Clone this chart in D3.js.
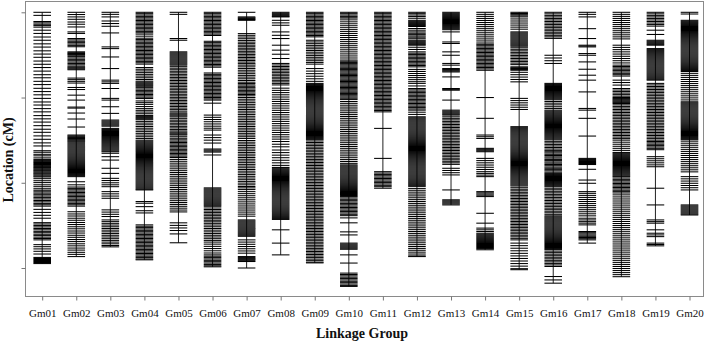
<!DOCTYPE html>
<html><head><meta charset="utf-8">
<script src="https://cdn.jsdelivr.net/npm/d3@7"></script>
<style>body{margin:0;background:#fff}svg{display:block}</style>
</head><body>
<svg id="c" width="708" height="341"></svg>
<script>
const groups = ["Gm01","Gm02","Gm03","Gm04","Gm05","Gm06","Gm07","Gm08","Gm09","Gm10","Gm11","Gm12","Gm13","Gm14","Gm15","Gm16","Gm17","Gm18","Gm19","Gm20"];
const yTicks = [0,50,100,150];
// marker positions (cM)
const gm01 = [0,1.8,5.4,6.2,7,7.8,8.7,10.5,12.4,14.5,16.4,18.5,20.4,22.6,24.5,26.4,28.6,30.5,32.4,34.5,36.6,38.4,40.5,42.4,44.6,46.5,48.4,50.5,52.6,54.4,56.5,58.4,60.6,62.5,64.4,66.5,68.6,70.4,72.5,74.5,76.6,78.4,81.2,82.1,83.3,84.2,85.4,86.3,87,87.6,88.1,88.7,89.3,89.8,90.4,91,91.5,92.1,92.7,93.2,93.8,94.4,94.9,95.5,96.1,96.6,97.6,98.8,99.9,101.2,102.3,103.5,104.4,105.3,106.1,107,107.8,108.7,109.5,110.4,111.2,112.1,112.9,113.7,115.6,117.4,119.1,120.8,123.4,124.2,125.1,125.9,126.8,127.6,128.5,129.3,130.2,131,131.9,132.7,133.5,136.3,137.5,138.8,140.2,141.8,143.8,144.4,145,145.6,146.2,146.8,147.4];
const gm02 = [0,1.3,2.7,4.1,5.7,7,8.6,11.5,12.4,15.4,16.2,17,17.8,18.6,19.4,20.2,23.2,23.7,24.2,24.7,25.2,26,26.8,27.6,28.4,29.2,30,30.8,31.6,32.2,32.7,33.2,33.7,38.6,39.5,40.5,41.5,44.1,45.3,48.6,51.5,55.6,56.2,59.1,62.6,67.3,72,72.5,73,73.5,74,74.5,75,75.5,76,76.6,77.2,77.8,78.4,79,79.6,80.2,80.8,81.4,82,82.6,83.2,83.8,84.4,85,85.6,86.2,86.8,87.4,88,88.6,89.2,89.8,90.4,91,91.6,92.2,92.8,93.4,94,94.6,95.2,95.8,96.4,99.4,101.2,102.5,103.3,104.1,104.9,105.7,106.5,107.3,108.1,108.9,109.7,110.5,111.3,112.1,112.9,113.7,117,118.3,119.5,120.8,122,123.3,124.5,125.8,127,128.3,129.5,130.8,132,133.3,134.5,135.8,137,138.3,139.5,140.8,142,143.3];
const gm03 = [0,1.2,2.7,5.1,6.6,8.2,12.1,20.3,21.3,26.2,33,39.8,40.8,41.7,44.7,50.5,51.5,55.4,59.3,63.2,63.8,64.4,65,65.6,66.2,66.8,68.1,68.7,69.3,69.9,70.5,71.1,71.7,72.3,72.9,73.5,74.1,74.7,75.3,75.9,76.5,77.1,77.7,78.3,78.9,79.5,80.1,80.7,81.3,81.8,82.7,84.7,86.7,91.5,94.5,97.4,98.7,100,101.2,102.3,105.2,106.5,107.8,109.1,115.9,117.2,118.5,119.8,121.8,122.8,123.8,124.8,125.8,126.8,127.8,128.8,129.8,130.8,131.8,132.8,133.8,134.8,135.8,136.8,137.6];
const gm04 = [0,0.8,1.6,2.4,3.2,4,4.8,5.6,6.4,7.2,8,8.8,9.6,10.4,11.2,12,12.8,14,15.2,16,16.8,17.6,18.4,19.2,20,20.8,21.6,22.4,23.2,24,24.8,25.6,26.4,27.2,28,28.8,29.6,30.4,32.4,33.4,34.4,35.4,36.4,37.4,38.4,39.4,40.4,41,41.6,42.2,42.8,43.4,44.2,45,45.8,46.6,47.4,48.2,49,49.8,50.6,52,53,54,55.3,56.5,57.5,58.5,59.5,60.5,61.2,61.8,62.4,63,64,65,66,67,68,69,70,71,72,73,74,75,75.6,76.2,76.8,77.4,78,78.6,79.2,79.8,80.4,81,81.6,82.2,82.8,83.4,84,84.6,85.2,85.8,86.4,87,87.6,88.2,88.8,89.4,90,90.6,91.2,91.8,92.4,93,93.6,94.2,94.8,95.4,96,96.6,97.2,97.8,98.4,99,99.6,100.2,100.8,101.4,102,102.6,103.2,103.8,104.2,111,112,114,116.4,117.7,124.7,125.5,126.3,127.1,127.9,128.7,129.5,130.3,131.1,131.9,132.7,133.5,134.3,135.1,135.9,136.7,137.5,138.3,139.1,139.9,140.7,141.5,142.3,143.1,143.9,144.7,145.2];
const gm05 = [0,1.2,15.4,16.4,23.2,23.8,24.4,25,25.6,26.2,26.8,27.4,28,28.6,29.2,29.8,30.4,31,31.9,32.8,33.7,34.6,35.5,36.4,37.3,38.2,39.1,40,40.9,41.8,42.7,43.6,44.5,45.4,46.3,47.2,48.1,49,49.9,50.8,51.7,52.6,53.5,54.4,55.3,56.2,57.1,58,59,59.6,60.2,60.8,61.4,62.4,63.3,64.2,65.1,66,66.9,67.8,68.7,69.6,70.3,70.9,71.5,72,73,73.9,74.8,75.6,76.4,77.2,78,78.8,79.6,80.4,81.2,82,82.8,83.6,84.4,85.2,86.3,87.4,88.5,89.6,90.7,91.8,92.9,94,95.1,96.2,97.3,98.4,99.5,100.6,101.7,102.8,103.9,105,106.1,107.2,108.3,109.4,110.5,111.6,112.7,113.8,114.9,116,117.1,123.5,125,126.5,128,130,135.2];
const gm06 = [0,0.8,1.6,2.4,3.2,4,4.8,5.6,6.4,7.2,8,8.8,9.6,10.4,11.2,12,12.8,13.6,17,17.8,18.6,19.4,20.2,21,21.8,22.6,23.4,24.2,25,25.8,26.6,27.4,28.2,29,29.8,30.6,31.4,32.2,35.6,36.4,37.2,38,38.8,39.6,40.4,41.2,42,42.8,43.6,44.4,45.2,46,46.8,47.6,48.4,49.2,50,50.8,51.5,53.3,60.3,61.6,62.9,64.2,65.5,66.8,68,69.1,72,73.5,75,76.7,80.2,80.8,81.4,82,83.7,103,103.6,104.2,104.8,105.4,106,106.6,107.2,107.8,108.4,109,109.6,110.2,110.8,111.4,112,112.6,113.2,113.8,114.8,115.7,116.6,117.5,118.4,119.3,120.2,121.1,122,122.9,123.8,124.8,125.8,126.8,127.8,128.8,129.8,130.8,131.8,132.8,133.8,134.8,136,137.3,138.6,139.9,141.2,142.3,143.1,143.9,144.7,145.5,146.3,147.1,147.9,148.7,149.3];
const gm07 = [0,2.7,3.2,3.7,4.2,4.7,12.5,13.5,14.5,15.5,16.5,17.5,18.4,19.3,20.2,21.1,22,22.9,23.8,24.7,25.6,26.5,27.4,28.3,29.2,30.1,31,32,33,34,35,36,37,38,39,40,41,41.8,42.6,43.4,44.2,45,45.8,46.6,47.4,48.2,49,50,51,52,53,54,55,56,57,58,59,60,61,62,63,64,65,66,67,68,69,70,71,72,73,74,75.2,76.2,77.2,78.2,79.2,80.2,81.2,82.2,83.2,84.2,85.2,86.2,87.2,88.2,89.2,90.2,91.2,92.2,93.2,94.2,95.2,96.2,97.2,98.2,99.2,100.2,101.2,102.2,103,104,105.2,106.4,107.6,108.8,110,111.2,112.4,113.6,114.8,116,117.2,118.4,119.6,121.8,122.4,123,123.6,124.2,124.8,125.4,126,126.6,127.2,127.8,128.4,129,129.6,130.2,130.8,131.4,133.5,134.8,136.1,137.4,138.7,140,141.3,143.3,143.9,144.5,145.1,145.7,146.2,150];
const gm08 = [0,0.6,1.2,1.8,2.4,2.7,4.7,6.2,7.6,11.5,13.5,15.4,19.3,22.2,24.6,27.1,30,30.9,31.8,32.7,33.6,34.5,35.4,36.3,37.2,38.1,39,39.9,40.8,41.7,42.6,44.5,45.8,47.1,48.4,49.7,51,52.3,53.6,54.9,56.2,57.5,58.8,60.1,61.4,62.7,64,65.3,66.6,67.9,69.2,70.5,71.8,73.1,74.4,75.8,77.4,78.9,80.8,82.3,83.8,85.3,86.8,88.3,89.8,91,91.5,92.1,92.7,93.3,93.9,94.5,95.1,95.7,96.3,96.9,97.5,98.1,98.7,99.3,99.9,100.5,101.1,101.7,102.3,102.9,103.5,104.1,104.7,105.3,105.9,106.5,107.1,107.7,108.3,108.9,109.5,110.1,110.7,111.3,111.9,112.5,113.1,113.7,114.3,114.9,115.5,116.1,116.7,117.3,117.9,118.5,119.1,119.7,120.3,120.9,121.5,127.6,135.4,142.3];
const gm09 = [0,0.8,1.6,2.4,3.2,4,4.8,5.6,6.4,7.2,8,8.8,9.6,10.4,11.2,12,12.8,13.6,14.4,16.4,17.4,18.4,19.4,20.4,21.4,22.4,23.4,24.4,25.4,26.4,27.4,28.4,29.4,30.4,33,34.5,36,37.5,39,40.5,41.7,42.3,42.9,43.5,44.1,44.7,45.3,45.9,46.5,47.1,47.7,48.3,48.9,49.5,50.1,50.7,51.3,51.9,52.5,53.1,53.7,54.3,54.9,55.5,56.1,56.7,57.3,57.9,58.5,59.1,59.7,60.3,60.9,61.5,62.1,62.7,63.3,63.9,64.5,65.1,65.7,66.3,66.9,67.5,68.1,68.7,69.3,69.9,70.5,71.1,71.7,72.3,72.9,73.5,74.1,74.7,75.5,76.4,77.3,78.2,79.1,80,80.9,81.8,82.7,83.6,84.5,85.4,86.3,87.2,88.1,89,89.9,90.8,91.7,92.6,93.5,94.4,95.3,96.2,97.1,98,98.9,99.8,100.7,101.6,102.5,103.4,104.3,105.2,106.1,107,107.9,108.8,109.7,110.6,111.5,112.4,113.3,114.2,115.1,116,116.9,117.8,118.7,119.6,120.5,121.4,122.3,123.2,124.1,125,125.9,126.8,127.7,128.6,129.5,130.4,131.3,132.2,133.1,134,134.9,135.8,136.7,137.6,138.5,139.4,140.3,141.2,142.1,143,143.9,144.8,145.7,146.6,147];
const gm10 = [0,0.8,1.6,2.4,3.2,4,5.2,6.4,7.6,8.8,10,11.2,12.4,13.6,14.8,16,17.2,18.4,19.6,20.8,22,23.2,24.4,25.6,26.8,28,28.7,29.4,30.1,30.8,31.5,32.2,32.9,33.6,34.3,35,35.7,36.4,37.1,37.8,38.5,39.2,39.9,40.6,41.3,42,42.7,43.4,44.1,44.8,45.5,46.2,46.9,47.6,48.3,49,49.7,50.4,51.1,52.3,53.4,54.5,55.6,56.7,57.8,58.9,60,61.1,62.2,63.3,64.4,65.5,66.6,67.7,68.8,69.9,71,72.1,73.2,74.3,75.4,76.5,77.6,78.7,79.8,80.9,82,83.1,84.2,85.3,86.4,87.5,88.6,89.5,90.1,90.7,91.3,91.9,92.5,93.1,93.7,94.3,94.9,95.5,96.1,96.7,97.3,97.9,98.5,99.1,99.7,100.3,100.9,101.5,102.1,102.7,103.3,103.9,104.5,105.1,105.7,106.3,106.9,107.5,108.1,108.9,109.7,110.5,111.3,112.1,112.9,113.7,114.5,115.3,116.1,116.9,117.7,118.5,119.3,120.6,123.5,128.8,130.6,135.4,136,136.6,137.2,137.8,138.4,139,142.3,147.1,153,153.8,154.6,155.4,156.2,157,157.8,158.6,159.4,160.2,160.8];
const gm11 = [0,0.8,1.6,2.4,3.2,4,4.8,5.6,6.4,7.2,8,8.8,9.6,10.4,11.2,12,12.8,13.6,14.4,15.2,16,16.8,17.6,18.4,19.2,20,20.8,21.6,22.4,23.2,24,24.8,25.6,26.4,27.2,28,28.8,29.6,30.4,31.2,32,32.8,33.6,34.4,35.2,36,36.8,37.6,38.4,39.2,40,40.8,41.6,42.4,43.2,44,44.8,45.6,46.4,47.2,48,48.8,49.6,50.4,51.2,52,52.8,53.6,54.4,55.2,56,56.8,57.6,58.4,68.1,85.7,93.5,94.3,95.1,95.9,96.7,97.5,98.3,99.1,99.9,100.7,101.5,102.3,103.2];
const gm12 = [0,0.8,1.6,2.5,3.5,4.7,5.3,5.9,6.5,7.1,7.7,8.3,9.5,10.5,11.5,12.3,13.1,13.9,14.6,15.5,16.4,17,17.6,18.2,18.8,19.3,20.5,21.8,23.2,24,24.8,25.6,26.4,27.2,28,28.8,29.6,30.4,31.2,32,33.5,34.7,35.9,37.1,38.3,39.5,40.7,41.7,43.2,44.7,45.5,46.3,47.1,47.9,48.7,49.5,50.3,51.1,51.9,52.7,53.5,54.3,55.1,55.9,56.7,57.4,58.6,59.9,61.3,61.9,62.5,63.1,63.7,64.3,64.9,65.5,66.1,66.7,67.3,67.9,68.5,69.1,69.7,70.3,70.9,71.5,72.1,72.7,73.3,73.9,74.5,75.1,75.7,76.3,76.9,77.5,78.1,78.7,79.3,79.9,80.5,81.1,81.7,82.3,82.9,83.5,84.1,84.7,85.3,85.9,86.5,87.1,87.7,88.3,88.9,89.5,90.1,90.7,91.3,91.9,92.5,93.1,93.7,94.3,94.9,95.5,96.1,96.7,97.3,97.9,98.5,99.1,99.7,100.3,100.9,101.5,102.1,103.3,104.4,105.5,106.6,107.7,108.8,109.9,111,112.1,113.2,114.3,115.4,116.5,117.6,118.7,119.8,120.9,122,123.1,124.2,125.3,126.4,127.5,128.6,129.7,130.8,131.9,133,134.1,135.2,136.3,137.4,138.5,139.6,140.7,141.8,142.9,143.3];
const gm13 = [0,0.6,1.2,1.8,2.4,3,3.6,4.2,4.8,5.4,6,6.6,7.2,7.8,8.4,9,9.6,10.2,11.5,17.4,18.3,23.2,25.2,30,31,33,33.5,34,34.5,35,37.9,44.7,45.2,45.7,51.5,57.4,58,58.6,59.2,59.8,60.3,61.3,62.2,63.1,64,64.9,65.8,66.7,67.6,68.5,69.4,70.3,71.2,72.1,73,73.9,74.8,75.7,76.6,77.5,78.4,79.3,80.2,81.1,82,82.9,83.8,84.7,85.6,86.5,87.4,88.3,89.2,91.5,92.8,94.1,95.4,104.2,110,110.6,111.2,111.8,112.4,113];
const gm14 = [0,1.2,2.4,3.6,4.8,6,7.2,8.4,9.6,10.8,12,13.2,14.4,15.6,16.8,18,18.8,19.6,20.4,21.2,22,22.8,23.6,24.4,25.2,26,26.8,27.6,28.4,29.2,30,30.8,31.6,32.4,33.2,34,50,62.2,72,73,74,79.8,80.3,80.8,81.3,81.8,85.7,87,88.3,89.6,90.9,92.2,93.5,94.5,95.5,96.4,105.2,105.9,106.6,107.3,108.1,117.9,123.7,126.6,127.6,128.6,129.6,130.2,130.8,131.4,132,132.6,133.2,133.8,134.4,135,135.6,136.2,136.8,137.4,138,138.6,139.3];
const gm15 = [0,0.7,1.4,2.1,2.7,3.9,5.1,6.3,7.5,8.7,9.9,11.5,12.1,12.7,13.3,13.9,14.5,15.1,15.7,16.3,16.9,17.5,18.1,18.7,19.3,19.9,20.8,21.7,22.6,23.5,24.4,25.3,26.2,27.1,28,28.9,29.8,30.7,32,32.5,33,33.5,34,35.2,36.6,38,39.4,40.8,50.5,51.8,53.1,54.4,55.7,57,67.1,67.7,68.3,68.9,69.5,70.1,70.7,71.3,71.9,72.5,73.1,73.7,74.3,74.9,75.5,76.1,76.7,77.3,77.9,78.5,79.1,79.7,80.3,80.9,81.5,82.1,82.7,83.3,83.9,84.5,85.1,85.7,86.3,86.9,87.5,88.1,88.7,89.3,89.9,90.5,91.1,91.7,92.3,92.9,93.5,94.1,94.7,95.3,95.9,96.5,97.1,97.7,98.3,98.9,99.5,100.1,100.7,101.3,101.9,102.9,103.8,104.7,105.6,106.5,107.4,108.3,109.2,110.1,111,111.9,112.8,113.7,114.6,115.5,116.4,117.3,118.2,119.1,120,120.9,121.8,122.7,123.6,124.5,125.4,126.3,127.2,128.1,129,129.9,130.8,131.7,132.6,133.5,135.4,136.9,138.4,139.9,141.4,142.9,144.4,145.9,147.4,148.9,150.4,151];
const gm16 = [0,0.9,1.8,2.7,3.6,4.5,5.4,6.3,7.2,8.1,9,9.9,10.8,11.7,12.6,13.5,14.4,15.3,25.2,26.8,28.4,30,41.7,42.3,42.9,43.5,44.1,44.7,45.3,45.9,46.5,47.1,47.7,48.3,48.9,49.5,50.1,50.7,51.3,52.3,53.3,54.3,55.4,56.4,57.4,58,58.6,59.2,59.8,60.4,61,61.6,62.2,62.8,63.4,64,64.6,65.2,65.8,66.4,67,67.6,68.2,68.8,69.4,70,70.6,71.2,71.8,72.4,73,73.6,74.2,74.8,75.7,76.6,77.5,78.4,79.3,80.2,81,81.8,82.5,83.3,84,84.8,85.5,86.3,87,87.8,88.5,89.3,90,90.8,91.5,92.3,93,93.8,94.5,95.1,95.7,96.3,96.9,97.5,98.1,98.7,99.3,99.9,100.5,101.1,101.7,102.3,103.2,104.1,105,105.9,106.8,107.7,108.6,109.5,110.4,111.3,112.2,113.1,114,114.9,115.8,116.7,117.6,118.5,119.4,120,120.6,121.2,121.8,122.4,123,123.6,124.2,124.8,125.4,126,126.6,127.2,127.8,128.4,129,129.6,130.2,130.8,131.4,132,132.6,133.2,133.8,134.4,135,135.6,136.2,136.8,137.4,138,138.6,139.2,140.1,141,141.9,142.8,143.7,144.6,145.5,146.4,147.3,148.2,149.1,155,157,158.9];
const gm17 = [0,1.2,2.7,9.6,15.4,19.3,19.8,20.3,24.2,25.2,29.1,33.4,36.9,39.8,46.7,56.4,57.4,62.2,72.6,85.7,86.3,86.9,87.5,88.1,88.7,89.3,92.1,98.4,100.3,105.2,106.2,107.4,108.6,109.8,111,112.2,113.4,114.6,115.8,117,118.2,119.4,120.8,121.8,122.8,123.7,124.7,128.6,129.3,130,130.7,131.4,132.1,132.8,133.5,135.4];
const gm18 = [0,1.2,2.4,3.6,4.8,6,7.2,8.4,9.6,10.8,12,13.2,14.4,15.6,19.3,20.6,21.9,23.2,24.5,25.8,27.1,28.4,29.7,31,31.8,32.6,33.4,34.2,35,35.8,36.6,37.4,39.8,41.2,42.7,44.7,45.6,46.5,47.4,48.3,49.2,50,50.5,51,51.5,52,52.5,53,53.5,54.3,55.2,56.1,57,57.9,58.8,59.7,60.6,61.5,62.4,63.3,64.2,65.1,66,66.9,67.8,68.7,69.6,70.5,71.4,72.3,73.2,74.1,75,76.2,77.4,78.6,79.8,81,82.2,82.7,83.3,83.9,84.5,85.1,85.7,86.3,86.9,87.5,88.1,88.7,89.3,89.9,90.5,91.1,91.7,92.3,92.9,93.5,94.1,94.7,95.3,95.9,96.4,97.2,98,98.8,99.6,100.4,101.2,102,102.8,103.6,104.4,105.2,106,107.1,108.3,109.5,110.7,111.9,113.1,114.3,115.5,116.7,117.9,119.1,120.3,121.5,122.7,123.9,125.1,126.3,127.5,128.7,129.9,131.1,132.3,133.5,134.7,135.9,137.1,138.3,139.5,140.7,141.9,143.1,144.3,145.5,146.7,147.9,149.1,150.3,151.5,152.7,153.9,155.1];
const gm19 = [0,0.9,1.8,2.7,3.6,4.5,5.4,6.3,7.2,8.1,10.5,13,16.4,17,17.6,18.2,18.8,19.3,21.3,21.9,22.5,23.1,23.7,24.3,24.9,25.5,26.1,26.7,27.3,27.9,28.5,29.1,29.7,30.3,30.9,31.5,32.1,32.7,33.3,33.9,34.5,35.1,35.7,36.3,36.9,37.5,38.1,38.7,39.3,39.8,41.7,42.6,43.5,44.4,45.3,46.2,47.1,48,48.9,49.8,50.7,51.6,52.5,53.4,54.3,55.2,56.1,57,57.9,58.8,59.7,60.6,61.5,62.4,63.3,64.2,65.1,66,66.9,67.8,68.7,69.6,70.5,71.4,72.3,73.2,74.1,75,75.8,76.6,77.4,78.2,79,79.8,80.6,84.7,85.9,87.1,88.3,89.5,90.6,103.2,113,121.8,122.8,123.7,127.6,129.6,130.6,131.6,135.4,136.2,137];
const gm20 = [0,1,4.7,5.3,5.9,6.5,7.1,7.7,8.3,8.9,9.5,10.1,10.7,11.3,11.9,12.5,13.1,13.7,14.3,14.9,15.5,16.1,16.7,17.3,17.9,18.5,19.1,19.7,20.3,20.9,21.5,22.1,22.7,23.3,23.9,24.5,25.1,25.7,26.3,26.9,27.5,28.1,28.7,29.3,29.9,30.5,31.1,31.7,32.3,32.9,33.5,34.1,34.7,35.8,37,38.2,39.4,40.6,41.8,43,44.2,45.4,46.6,47.8,49,50.2,51.4,52.5,53.1,53.7,54.3,54.9,55.5,56.1,56.7,57.3,57.9,58.5,59.1,59.7,60.3,60.9,61.5,62.1,62.7,63.3,63.9,64.5,65.1,65.7,66.3,66.9,67.5,68.1,68.7,69.3,69.9,70.5,71.1,71.7,72.3,72.9,73.5,74.1,74.7,75.6,76.8,78,79.2,80.4,81.6,82.8,84,85.2,86.4,87.6,88.8,90,91.2,92.4,93.6,96.4,97.7,99,100.3,101.6,102.9,104.2,113,113.6,114.2,114.8,115.4,116,116.6,117.2,117.8,118.4,118.9];
const markers = [gm01,gm02,gm03,gm04,gm05,gm06,gm07,gm08,gm09,gm10,gm11,gm12,gm13,gm14,gm15,gm16,gm17,gm18,gm19,gm20];

const svg = d3.select("#c");
const frame = {left:25, right:703, top:1, bottom:296};
const x = d3.scalePoint().domain(groups).range([42.2, 689.5]);
const y = d3.scaleLinear().domain([0,150]).range([12.3, 268]);
const half = 8.8;
const serif = "'Liberation Serif','Times New Roman',serif";

// frame
svg.append("rect").attr("x",frame.left+0.5).attr("y",frame.top+0.5)
  .attr("width",frame.right-frame.left).attr("height",frame.bottom-frame.top)
  .attr("fill","none").attr("stroke","#8a8a8a").attr("stroke-width",1);

// chromosomes
const g = svg.append("g");
groups.forEach((name,i)=>{
  const m = markers[i];
  const cx = x(name);
  g.append("line").attr("x1",cx).attr("x2",cx)
    .attr("y1",y(d3.min(m))).attr("y2",y(d3.max(m)))
    .attr("stroke","#222").attr("stroke-width",1);
  g.selectAll(null).data(m).enter().append("line")
    .attr("x1",cx-half).attr("x2",cx+half)
    .attr("y1",d=>y(d)).attr("y2",d=>y(d))
    .attr("stroke","#000").attr("stroke-width",1.05);
});

// y axis (ticks only)
const ya = svg.append("g").attr("transform",`translate(${frame.left+0.5},0)`)
  .call(d3.axisLeft(y).tickValues(yTicks).tickFormat("").tickSize(4).tickSizeOuter(0));
ya.select(".domain").remove();
ya.selectAll("line").attr("stroke","#777");

// x axis
const xa = svg.append("g").attr("transform",`translate(0,${frame.bottom+0.5})`)
  .call(d3.axisBottom(x).tickSize(4).tickPadding(9).tickSizeOuter(0));
xa.select(".domain").remove();
xa.selectAll("line").attr("stroke","#777");
xa.selectAll("text").attr("font-family",serif).attr("font-size",11).attr("fill","#111");

svg.append("text").attr("x",362).attr("y",338).attr("text-anchor","middle")
  .attr("font-family",serif).attr("font-weight","bold").attr("font-size",14).attr("fill","#111")
  .text("Linkage Group");
svg.append("text").attr("transform","translate(13,160) rotate(-90)").attr("text-anchor","middle")
  .attr("font-family",serif).attr("font-weight","bold").attr("font-size",14).attr("fill","#111")
  .text("Location (cM)");
</script>
</body></html>
